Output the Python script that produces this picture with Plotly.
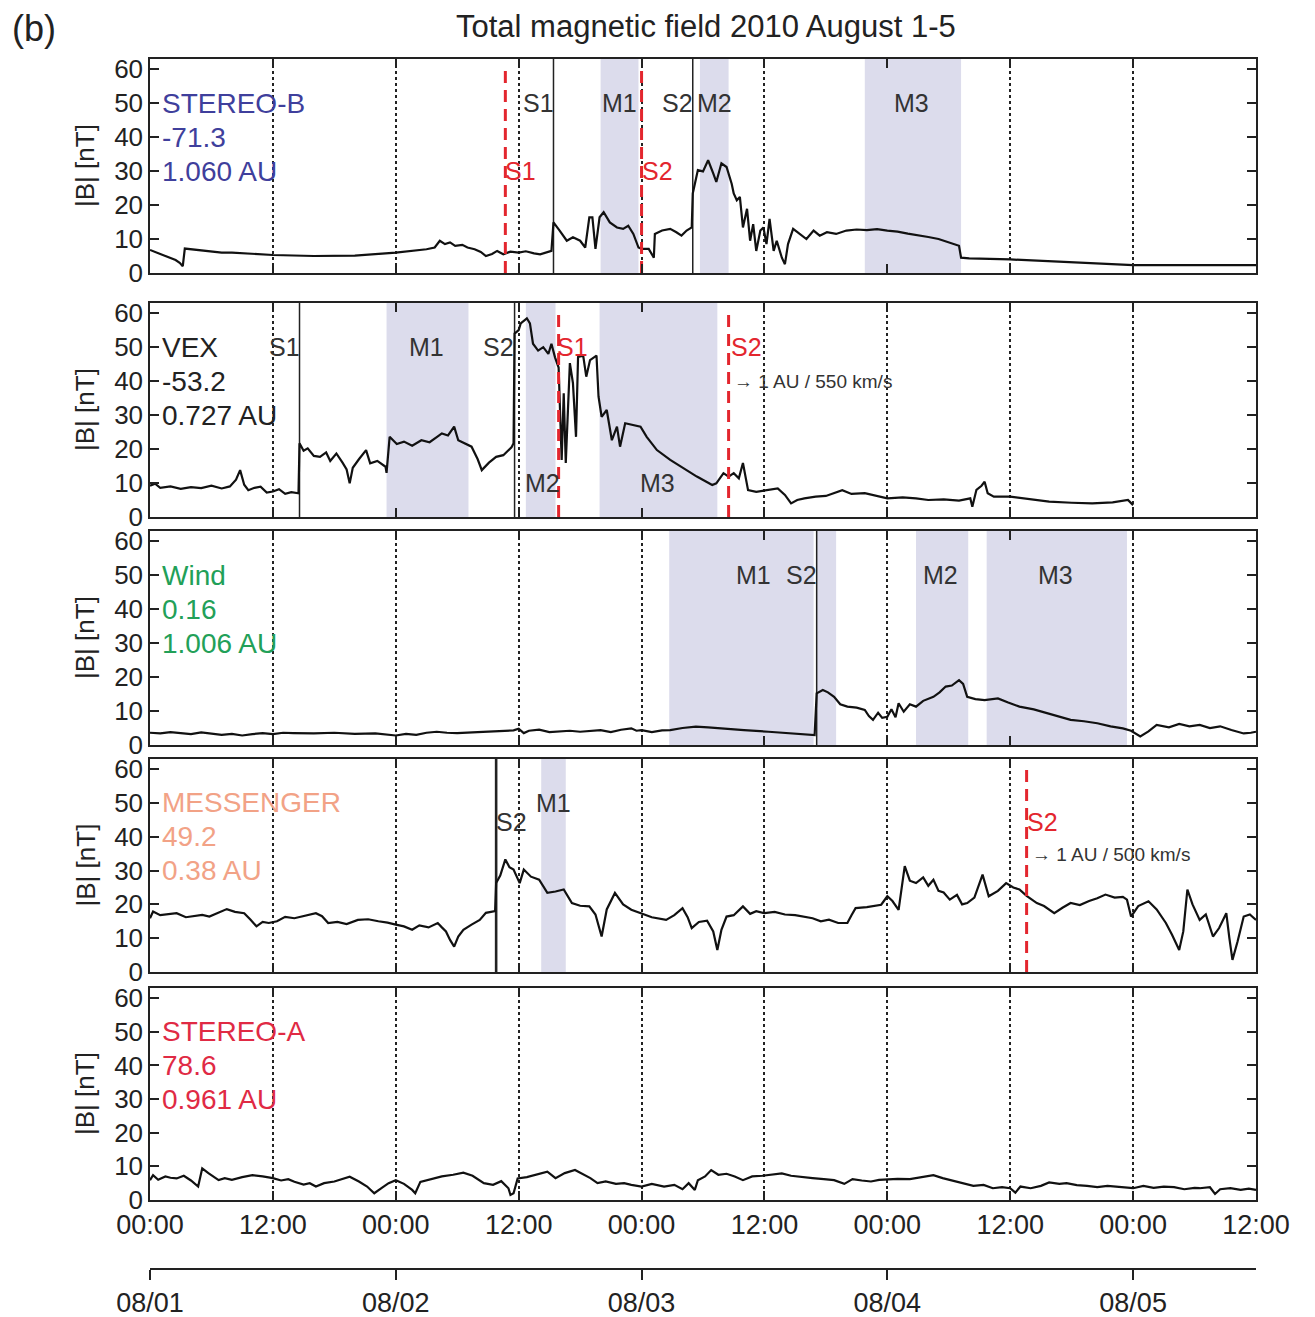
import plotly.graph_objects as go

# ---------------- data (hours since 2010-08-01 00:00, |B| in nT) ----------------
TIME_TICKS = [0, 12, 24, 36, 48, 60, 72, 84, 96, 108]
TIME_LABELS = ["00:00", "12:00", "00:00", "12:00", "00:00", "12:00", "00:00", "12:00", "00:00", "12:00"]
DATE_TICKS = [0, 24, 48, 72, 96]
DATE_LABELS = ["08/01", "08/02", "08/03", "08/04", "08/05"]
Y_TICKS = [0, 10, 20, 30, 40, 50, 60]

sb_t = [0, 0.5, 1, 1.5, 2, 2.5, 2.9, 3.2, 3.4, 4, 5, 6, 7, 8, 10, 12, 16, 20, 24, 27, 27.8, 28.3, 28.8, 29.3,
        29.8, 30.5, 31, 31.7, 32.3, 32.8, 33.4, 33.9, 34.5, 35.2, 36, 36.7, 37.5, 38.1, 39.2, 39.4, 40, 40.7,
        41.3, 42, 42.5, 42.9, 43.2, 43.5, 43.9, 44.3, 44.9, 45.6, 46.2, 46.7, 47.2, 47.7, 48.0, 48.7, 49.2,
        49.3, 50, 50.8, 51.4, 51.9, 52.4, 52.9, 53.0, 53.5, 54, 54.5, 55, 55.3, 55.8, 56.3, 56.8, 57, 57.3,
        57.6, 57.9, 58.3, 58.6, 58.9, 59.2, 59.6, 59.9, 60.2, 60.5, 60.9, 61.2, 61.7, 62, 62.3, 62.8, 63.5,
        64.1, 64.8, 65.4, 66.1, 67, 68, 69, 70, 71, 72, 73, 74, 75, 76, 77, 78, 79, 79.2, 80, 84, 88, 92, 96,
        100, 104, 108]
sb_b = [6.8, 6.2, 5.5, 4.8, 4.2, 3.8, 3.0, 2.0, 7.2, 7.0, 6.6, 6.4, 6.0, 6.0, 5.6, 5.3, 5.0, 5.1, 6.0, 7.0,
        7.5, 9.5, 8.5, 9.0, 8.0, 8.3, 7.5, 7.0, 6.2, 5.0, 5.6, 6.5, 5.5, 6.3, 6.0, 6.4, 5.8, 5.5, 6.5, 14.9,
        12.5, 9.5, 10.5, 9.5, 7.5, 16.4, 16.4, 7.1, 16.4, 17.9, 14.9, 13.4, 13.0, 13.9, 11.5, 7.5, 7.1, 7.1,
        4.5, 11.5, 12.5, 13.0, 12.0, 11.0, 12.5, 13.4, 23.4, 30.3, 29.9, 33.2, 29.3, 26.8, 32.3, 31.2, 26.3,
        23.4, 21.4, 22.4, 13.4, 18.9, 9.5, 14.4, 6.5, 12.5, 13.4, 8.5, 15.9, 6.5, 9.5, 4.5, 2.6, 8.5, 13.0,
        11.5, 10.0, 12.5, 11.0, 12.0, 11.5, 12.5, 12.8, 12.6, 12.9, 12.5, 12.2, 11.6, 11.2, 10.6, 10.0, 9.0,
        8.0, 4.5, 4.3, 4.0, 3.4, 2.7, 2.3, 2.3, 2.2, 2.3]

vex_t = [0, 0.5, 1, 2, 3, 4, 5, 6, 7, 7.8, 8.4, 8.8, 9.2, 9.6, 10.2, 10.8, 11.4, 12, 12.6, 13.2, 13.8, 14.5,
         14.6, 15, 15.4, 16, 16.6, 17.2, 17.6, 18.2, 18.8, 19.2, 19.5, 19.8, 20.4, 21.1, 21.5, 22.2, 23, 23.1,
         23.4, 24.1, 24.8, 25.6, 26.5, 27.3, 28, 28.5, 29.1, 29.7, 30.1, 30.8, 31.4, 32, 32.4, 33.1, 33.8,
         34.5, 35.3, 35.5, 35.6, 36, 36.2, 36.8, 37.1, 37.4, 37.9, 38.4, 38.9, 39.2, 39.55, 39.9, 40.2, 40.4,
         40.6, 41.0, 41.3, 41.6, 41.8, 42.3, 42.6, 42.97, 43.6, 43.8, 44.1, 44.6, 45.1, 45.6, 45.9, 46.4,
         47.2, 47.9, 48.5, 49.5, 50.8, 52.1, 53.4, 54.9, 55.3, 56, 56.5, 57, 57.5, 57.9, 58.4, 59.2, 60.2,
         61.3, 62, 62.6, 63.2, 63.9, 65, 66, 67.6, 68.5, 69.8, 71, 72, 73.5, 74.8, 76, 77.5, 79, 80.1, 80.3,
         80.7, 81.2, 81.5, 81.8, 82.4, 84, 86, 87.8, 90, 92, 94, 95.5, 96]
vex_b = [9.2, 9.8, 8.6, 9.0, 8.3, 8.8, 8.5, 9.2, 8.4, 9.0, 11.0, 13.8, 9.5, 7.9, 8.6, 8.9, 7.2, 7.5, 8.2, 6.8,
         7.3, 7.0, 21.7, 19.5, 20.2, 18.0, 17.7, 19.0, 16.5, 18.7, 16.0, 14.0, 9.9, 14.5, 17.0, 19.7, 15.8,
         16.5, 14.8, 13.0, 23.6, 21.5, 22.2, 21.0, 22.6, 22.0, 23.5, 24.6, 24.0, 26.6, 22.6, 21.5, 20.7, 17.0,
         13.8, 16.0, 17.7, 18.2, 20.5, 21.7, 54.0, 55.0, 57.0, 58.5, 57.0, 51.0, 49.0, 50.0, 48.0, 51.0, 47.0,
         44.0, 16.8, 36.4, 15.9, 45.3, 39.4, 23.6, 47.1, 47.5, 41.3, 46.2, 47.5, 35.4, 29.5, 31.5, 22.6, 26.6,
         20.7, 27.6, 27.1, 26.6, 23.6, 19.7, 16.8, 14.4, 11.9, 9.4, 9.9, 12.9, 11.9, 12.9, 11.4, 15.9, 7.9,
         7.4, 7.9, 8.4, 6.5, 4.0, 5.0, 5.5, 6.0, 6.2, 7.9, 6.8, 7.0, 6.2, 5.5, 5.8, 5.5, 5.0, 5.2, 4.8, 5.5,
         3.0, 8.0, 9.2, 10.4, 7.0, 6.0, 6.0, 5.2, 4.5, 4.2, 4.0, 4.3, 5.0, 3.5]

wind_t = [0, 1, 2, 3, 4, 5, 6, 7, 8, 9, 10, 11, 12, 13, 14, 16, 18, 20, 22, 23, 24, 25, 26, 27, 28, 29, 30,
          32, 34, 35.5, 36, 36.5, 37, 38, 39, 40, 41, 42, 43, 44, 45, 46, 47, 47.5, 48, 49, 50, 50.8, 52,
          53.3, 54.5, 56.3, 58, 60.4, 62, 64, 64.9, 65.1, 65.7, 66.2, 66.8, 67.4, 68.1, 69, 69.8, 70.2, 70.6,
          71.1, 71.5, 72, 72.4, 72.8, 73.1, 73.6, 74.2, 74.8, 75.5, 76.5, 77.1, 77.7, 78.3, 79, 79.4, 79.8,
          80.6, 81.5, 82.8, 83.8, 84.9, 86.3, 87.8, 89, 89.9, 91.2, 92.5, 93.8, 95, 95.8, 96.7, 97.5, 98.3,
          99.5, 100.5, 101.5, 102.5, 103.5, 104.5, 105.6, 106.8, 107.5, 108]
wind_b = [3.6, 3.4, 3.8, 3.5, 3.2, 3.7, 3.4, 3.0, 3.3, 2.8, 3.2, 3.5, 3.2, 3.6, 3.5, 3.4, 3.6, 3.3, 3.4, 3.0,
          2.8, 3.3, 3.0, 3.6, 3.9, 3.6, 3.5, 3.8, 4.0, 4.3, 4.8, 3.5, 4.2, 4.5, 3.8, 4.0, 4.2, 3.9, 4.2, 4.4,
          3.8, 4.5, 4.9, 4.2, 4.4, 3.8, 4.3, 4.4, 5.0, 5.4, 5.2, 4.9, 4.4, 3.9, 3.5, 3.0, 2.9, 15.2, 16.2,
          15.5, 14.2, 12.0, 11.3, 11.0, 10.3, 8.5, 7.4, 9.5, 8.0, 8.3, 10.5, 8.2, 12.3, 9.8, 12.0, 11.3, 13.0,
          14.2, 15.5, 17.2, 17.5, 19.1, 18.0, 14.2, 13.5, 13.2, 13.7, 12.5, 11.3, 10.5, 9.3, 8.2, 7.4, 7.0,
          6.4, 5.5, 4.9, 4.2, 2.5, 4.0, 5.9, 5.2, 6.2, 5.5, 5.9, 5.0, 5.5, 4.4, 3.4, 3.6, 3.9]

mes_t = [0, 0.3, 1, 1.8, 2.6, 3.5, 4.3, 5.1, 5.8, 6.6, 7.5, 8.3, 9.2, 9.8, 10.4, 11, 11.6, 12.4, 13.2, 14.1,
         15, 15.6, 16.2, 16.8, 17.4, 18.3, 19.2, 20.3, 21.3, 22.3, 23.2, 24, 24.8, 25.6, 26.3, 27.2, 28.1,
         28.5, 28.9, 29.3, 29.7, 30.1, 30.6, 31.4, 32.2, 32.8, 33.4, 33.7, 33.8, 34.2, 34.7, 35.1, 35.5, 36.1,
         36.5, 37.2, 38, 38.8, 39.6, 40.4, 41.2, 42, 42.9, 43.5, 44.1, 44.6, 45.4, 46.2, 47, 48, 49, 50.4,
         51.2, 52, 52.5, 52.9, 53.6, 54.4, 55, 55.4, 55.8, 56.3, 57, 57.9, 58.6, 59.2, 60, 61, 62, 63, 64,
         64.7, 65.5, 66.3, 67.2, 68.1, 68.5, 68.9, 70, 71.4, 72, 72.5, 73.1, 73.7, 74.2, 74.8, 75.5, 76, 76.5,
         77, 77.5, 78.1, 78.8, 79.3, 79.8, 80.5, 81.3, 81.9, 82.8, 83.6, 84.3, 84.9, 85.6, 86.6, 87.3, 88.3,
         89.1, 89.9, 90.8, 91.7, 92.5, 93.3, 94.2, 95, 95.4, 95.8, 96.5, 97.5, 98.3, 99.2, 99.8, 100.5,
         100.9, 101.3, 101.8, 102.5, 103.1, 103.8, 104.4, 105.1, 105.4, 105.7, 106.2, 106.8, 107.4, 108]
mes_b = [15.9, 17.9, 16.8, 17.2, 17.4, 16.2, 16.6, 16.9, 16.4, 17.5, 18.6, 17.8, 17.4, 15.5, 13.5, 14.8,
         14.5, 15.0, 16.3, 15.9, 16.5, 17.0, 17.4, 16.5, 14.5, 14.8, 14.2, 15.4, 15.6, 15.0, 14.6, 14.0, 13.5,
         12.5, 13.8, 13.2, 14.5, 13.2, 12.0, 9.5, 7.5, 10.5, 12.5, 14.0, 15.4, 17.5, 17.9, 18.0, 26.3, 28.5,
         33.3, 31.0, 30.3, 26.3, 30.3, 28.2, 27.3, 23.4, 23.8, 24.4, 20.4, 19.6, 19.4, 17.0, 10.5, 18.5, 23.4,
         20.0, 18.4, 17.4, 16.2, 15.4, 16.8, 18.9, 16.2, 13.0, 14.8, 15.2, 12.0, 6.5, 12.5, 16.4, 16.8, 19.4,
         17.2, 18.0, 17.4, 17.8, 17.0, 16.8, 16.2, 15.9, 15.0, 15.5, 14.5, 14.5, 16.8, 18.9, 19.2, 19.9, 22.4,
         21.0, 18.4, 31.3, 27.0, 26.3, 28.0, 25.5, 27.3, 24.0, 23.5, 21.4, 22.8, 20.0, 20.4, 22.0, 28.8, 22.4,
         24.0, 26.3, 25.0, 24.4, 22.5, 20.4, 19.5, 17.4, 19.0, 20.4, 19.8, 21.0, 21.8, 22.9, 22.0, 22.2, 21.4,
         16.4, 19.5, 20.9, 18.5, 14.5, 11.0, 6.5, 12.0, 24.4, 20.0, 15.4, 17.0, 10.5, 13.0, 17.4, 10.0, 3.6,
         9.0, 16.4, 17.0, 15.4]

sa_t = [0, 0.3, 0.8, 1.5, 2, 2.6, 3.3, 4, 4.7, 5.1, 5.7, 6.2, 6.7, 7.3, 8, 9, 10, 11, 12, 12.8, 13.5, 14.1,
        15, 15.6, 16.2, 17, 18, 19.5, 20.4, 21.2, 21.9, 22.6, 23.3, 24, 24.8, 25.6, 25.9, 26.4, 27.5, 28.5,
        29.6, 30.6, 31.5, 32.6, 33.5, 34.3, 35, 35.2, 35.5, 35.9, 36.8, 37.8, 38.8, 39.6, 40.5, 41.5, 42.3,
        43, 43.7, 44.5, 45.5, 46.3, 47, 48, 49, 50.2, 51.2, 52, 52.6, 53.2, 53.5, 54.2, 54.8, 55.5, 56.3,
        57.1, 57.9, 58.8, 59.8, 60.8, 61.7, 62.6, 63.6, 64.7, 65.8, 66.8, 67.8, 68.6, 69.5, 70.4, 71.2, 72,
        73, 74.2, 75.5, 76.5, 77.4, 78.4, 79.4, 80.4, 81.4, 82.3, 83.2, 84, 84.5, 85, 86, 87, 87.8, 88.8,
        89.5, 90.5, 91.5, 92.5, 93.5, 94.5, 95.5, 96, 97, 98, 99, 100, 101, 102, 102.5, 103.5, 104.0, 104.5,
        105.5, 106.5, 107.3, 108]
sa_b = [5.9, 7.4, 6.0, 7.0, 6.6, 6.4, 7.2, 5.8, 4.0, 9.4, 8.0, 7.0, 5.9, 6.5, 6.0, 6.8, 7.4, 7.0, 6.5, 5.8,
        6.2, 5.4, 4.6, 5.0, 4.0, 5.0, 5.5, 6.9, 5.5, 4.0, 2.0, 3.5, 5.0, 5.9, 4.8, 3.0, 2.0, 5.4, 6.2, 7.0,
        7.5, 8.1, 7.2, 5.0, 4.5, 5.6, 3.5, 1.5, 2.0, 6.4, 6.8, 7.5, 8.4, 6.5, 8.0, 8.9, 7.5, 6.5, 5.0, 5.5,
        4.8, 5.0, 4.5, 4.0, 4.8, 4.0, 4.5, 3.2, 5.0, 3.0, 5.9, 7.0, 8.9, 7.5, 7.8, 7.0, 5.9, 7.0, 7.2, 7.5,
        7.9, 7.2, 6.8, 6.5, 6.2, 5.9, 4.8, 6.2, 5.8, 5.5, 6.0, 6.1, 6.3, 6.2, 6.8, 7.4, 6.5, 5.8, 5.0, 4.2,
        4.5, 3.5, 3.8, 3.5, 2.2, 4.0, 3.5, 4.2, 5.2, 4.8, 5.0, 4.4, 4.2, 3.8, 4.2, 4.0, 3.8, 3.5, 4.2, 3.6,
        4.0, 3.8, 3.2, 3.6, 3.5, 3.8, 1.8, 3.2, 3.5, 3.0, 3.4, 3.0]

# spacecraft name, longitude, distance, label colour
craft_names = ["STEREO-B", "VEX", "Wind", "MESSENGER", "STEREO-A"]
craft_lon = ["-71.3", "-53.2", "0.16", "49.2", "78.6"]
craft_dist = ["1.060 AU", "0.727 AU", "1.006 AU", "0.38 AU", "0.961 AU"]
craft_colors = ["#3f3f9c", "#222222", "#22a058", "#f2a286", "#e02a44"]

# shaded magnetic-obstacle intervals per panel (hours)
shades = [
    [(44.0, 47.7), (53.7, 56.5), (69.8, 79.2)],
    [(23.1, 31.1), (36.7, 39.6), (43.9, 55.4)],
    [(50.7, 64.8), (65.1, 67.0), (74.8, 79.9), (81.7, 95.4)],
    [(38.2, 40.6)],
    [],
]
# observed shocks (solid black lines)
shocks = [[39.4, 53.0], [14.6, 35.6], [65.1], [33.8], []]
# predicted shocks (red dashed lines)
pred_shocks = [[34.7, 48.0], [39.9, 56.5], [], [85.6], []]

# event labels: (panel, hour, nT, text, colour)
event_labels = [
    (0, 37.9, 50, "S1", "#333333"), (0, 45.8, 50, "M1", "#333333"), (0, 51.5, 50, "S2", "#333333"),
    (0, 55.1, 50, "M2", "#333333"), (0, 74.4, 50, "M3", "#333333"),
    (0, 36.2, 30, "S1", "#e3262e"), (0, 49.6, 30, "S2", "#e3262e"),
    (1, 13.1, 50, "S1", "#333333"), (1, 27.0, 50, "M1", "#333333"), (1, 34.0, 50, "S2", "#333333"),
    (1, 41.3, 50, "S1", "#e3262e"), (1, 38.3, 10, "M2", "#333333"), (1, 49.6, 10, "M3", "#333333"),
    (1, 58.2, 50, "S2", "#e3262e"),
    (2, 58.9, 50, "M1", "#333333"), (2, 63.6, 50, "S2", "#333333"), (2, 77.2, 50, "M2", "#333333"),
    (2, 88.4, 50, "M3", "#333333"),
    (3, 35.3, 44.5, "S2", "#333333"), (3, 39.4, 50, "M1", "#333333"), (3, 87.2, 44.5, "S2", "#e3262e"),
]
arrow_notes = [(1, 56.8, 40, "→ 1 AU / 550 km/s"), (3, 85.9, 34.7, "→ 1 AU / 500 km/s")]

series_t = [sb_t, vex_t, wind_t, mes_t, sa_t]
series_b = [sb_b, vex_b, wind_b, mes_b, sa_b]

# ---------------- layout geometry ----------------
W, H = 1315, 1317
ML, MR, MT, MB = 150, 59, 59, 49
plot_h = H - MT - MB
panel_px = [(59, 273), (303, 517), (531, 745), (759, 972), (988, 1200)]
YMAX = 63


def frac(py):
    return (H - MB - py) / plot_h


FONT = "Liberation Sans, Arial, Helvetica, sans-serif"
INK = "#222222"
SHADE = "#dcdcec"
RED = "#e3262e"

fig = go.Figure()
layout = dict(
    width=W, height=H, margin=dict(l=ML, r=MR, t=MT, b=MB, autoexpand=False),
    paper_bgcolor="white", plot_bgcolor="white", showlegend=False,
    font=dict(family=FONT, color=INK, size=26),
)
annotations = []

for i in range(5):
    k = "" if i == 0 else str(i + 1)
    xa, ya = "x" + k, "y" + k
    top, bot = panel_px[i]
    # shaded intervals as filled traces (drawn over the grid, under the data)
    for (a, b) in shades[i]:
        fig.add_trace(go.Scatter(x=[a, b, b, a, a], y=[0, 0, YMAX, YMAX, 0], mode="lines",
                                 fill="toself", fillcolor=SHADE, line=dict(width=0, color=SHADE),
                                 xaxis=xa, yaxis=ya, hoverinfo="skip"))
    # observed shocks
    for s in shocks[i]:
        fig.add_trace(go.Scatter(x=[s, s], y=[0, YMAX], mode="lines", xaxis=xa, yaxis=ya,
                                 line=dict(color=INK, width=2.6 if i == 3 else 1.5), hoverinfo="skip"))
    fig.add_trace(go.Scatter(x=series_t[i], y=series_b[i], mode="lines", xaxis=xa, yaxis=ya,
                             line=dict(color="#111111", width=2.2), hoverinfo="skip"))
    # predicted shocks
    for s in pred_shocks[i]:
        fig.add_trace(go.Scatter(x=[s, s], y=[0, 60], mode="lines", xaxis=xa, yaxis=ya,
                                 line=dict(color=RED, width=3, dash="12px,7px"), hoverinfo="skip"))
    layout["xaxis" + k] = dict(
        domain=[0, 1], range=[0, 108], anchor=ya, showline=True, linecolor=INK, linewidth=1.5,
        mirror="ticks", ticks="inside", ticklen=9, tickwidth=1.5, tickcolor=INK,
        tickvals=TIME_TICKS, ticktext=TIME_LABELS, showticklabels=(i == 4),
        tickfont=dict(size=27, color=INK), showgrid=True, gridcolor=INK, griddash="dot",
        gridwidth=1.5, zeroline=False, fixedrange=True, automargin=False,
    )
    layout["yaxis" + k] = dict(
        domain=[frac(bot), frac(top)], range=[0, YMAX], anchor=xa, showline=True, linecolor=INK,
        linewidth=1.5, mirror="ticks", ticks="inside", ticklen=9, tickwidth=1.5, tickcolor=INK,
        tickvals=Y_TICKS, tickfont=dict(size=26, color=INK), showgrid=False, zeroline=False,
        fixedrange=True, automargin=False,
    )
    for txt, yv in zip([craft_names[i], craft_lon[i], craft_dist[i]], [50, 40, 30]):
        annotations.append(dict(xref=xa, yref=ya, x=1.0, y=yv, text=txt, showarrow=False,
                                xanchor="left", yanchor="middle",
                                font=dict(size=28, color=craft_colors[i], family=FONT)))
    annotations.append(dict(xref="paper", yref="paper", x=(85 - ML) / (W - ML - MR),
                            y=frac((top + bot) / 2), text="|B| [nT]", textangle=-90,
                            showarrow=False, xanchor="center", yanchor="middle",
                            font=dict(size=26, color=INK, family=FONT)))

for (p, hx, yv, txt, col) in event_labels:
    k = "" if p == 0 else str(p + 1)
    annotations.append(dict(xref="x" + k, yref="y" + k, x=hx, y=yv, text=txt, showarrow=False,
                            xanchor="center", yanchor="middle",
                            font=dict(size=25, color=col, family=FONT)))
for (p, hx, yv, txt) in arrow_notes:
    k = "" if p == 0 else str(p + 1)
    annotations.append(dict(xref="x" + k, yref="y" + k, x=hx, y=yv, text=txt, showarrow=False,
                            xanchor="left", yanchor="middle",
                            font=dict(size=19, color="#333333", family=FONT)))

# date axis
fig.add_trace(go.Scatter(x=[0, 108], y=[0, 0], mode="lines", xaxis="x6", yaxis="y6",
                         line=dict(width=0), opacity=0, hoverinfo="skip"))
layout["xaxis6"] = dict(domain=[0, 1], range=[0, 108], anchor="y6", showline=True, linecolor=INK,
                        linewidth=1.5, ticks="outside", ticklen=10, tickwidth=1.5, tickcolor=INK,
                        tickvals=DATE_TICKS, ticktext=DATE_LABELS, tickfont=dict(size=27, color=INK),
                        showgrid=False, zeroline=False, fixedrange=True, automargin=False)
layout["yaxis6"] = dict(domain=[0, 0.001], range=[0, 1], anchor="x6", visible=False, fixedrange=True,
                        automargin=False)

annotations.append(dict(xref="paper", yref="paper", x=(706 - ML) / (W - ML - MR), y=frac(27),
                        text="Total magnetic field 2010 August 1-5", showarrow=False,
                        xanchor="center", yanchor="middle", font=dict(size=31, color=INK, family=FONT)))
annotations.append(dict(xref="paper", yref="paper", x=(10 - ML) / (W - ML - MR), y=frac(28),
                        text="(b)", showarrow=False, xanchor="left", yanchor="middle",
                        font=dict(size=36, color=INK, family=FONT)))

layout["annotations"] = annotations
fig.update_layout(**layout)
fig.write_html("out.html")
